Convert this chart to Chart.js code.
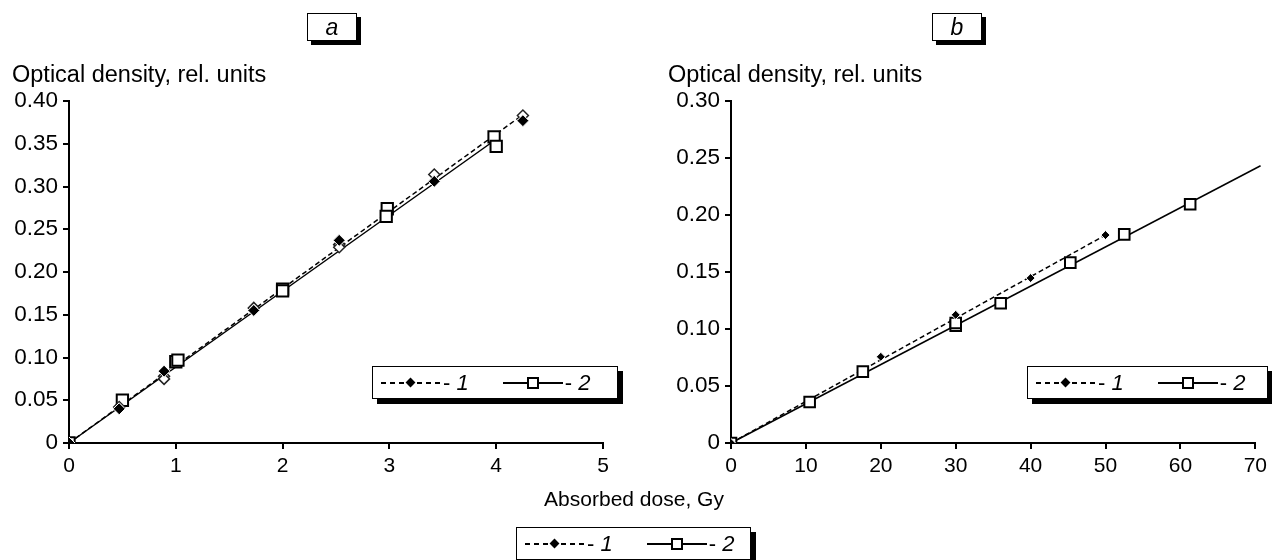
<!DOCTYPE html>
<html>
<head>
<meta charset="utf-8">
<script src="https://cdn.jsdelivr.net/npm/chart.js@4.4.1/dist/chart.umd.min.js"></script>
<style>
body{margin:0;background:#fff;font-family:"Liberation Sans",Arial,sans-serif;color:#000}
#wrap{position:relative;width:1272px;height:560px;overflow:hidden;background:#fff}
canvas{position:absolute;top:0}
.tag{position:absolute;top:13px;width:48px;height:26px;border:1px solid #000;box-shadow:4px 4px 0 #000;background:#fff;text-align:center;font-style:italic;font-size:23px;line-height:26px}
.ytitle{position:absolute;top:61px;font-size:23.5px;line-height:26px;white-space:nowrap}
.xtitle{position:absolute;left:0;width:1268px;top:486px;text-align:center;font-size:21px;line-height:26px}
.legend{position:absolute;height:33px;border:1px solid #000;box-shadow:5px 5px 0 #000;background:#fff;display:flex;align-items:center;font-size:22px;padding-left:8px;box-sizing:border-box}
.sample{position:relative;width:60px;height:12px;display:inline-block}
.sample .ln{position:absolute;left:0;right:0;top:5px;height:2px;background:#000}
.sample .ln.dash{background:repeating-linear-gradient(90deg,#000 0 5px,transparent 5px 9px)}
.sample .dia{position:absolute;left:26px;top:2px;width:7px;height:7px;background:#000;transform:rotate(45deg)}
.sample .sq{position:absolute;left:24px;top:0;width:8px;height:8px;border:2px solid #000;background:#fff}
.lab{margin-left:2px;white-space:pre}
.lab i{font-style:italic}
.gap{width:34px}
</style>
</head>
<body>
<div id="wrap">
  <canvas id="chartA" width="636" height="560" style="left:0"></canvas>
  <canvas id="chartB" width="636" height="560" style="left:636px"></canvas>
  <div class="tag" style="left:307px">a</div>
  <div class="tag" style="left:932px">b</div>
  <div class="ytitle" style="left:12px">Optical density, rel. units</div>
  <div class="ytitle" style="left:668px">Optical density, rel. units</div>
  <div class="xtitle">Absorbed dose, Gy</div>
  <div class="legend" style="left:372px;top:366px;width:246px">
    <span class="sample"><span class="ln dash"></span><span class="dia"></span></span><span class="lab">- <i>1</i></span>
    <span class="gap"></span>
    <span class="sample"><span class="ln"></span><span class="sq"></span></span><span class="lab">- <i>2</i></span>
  </div>
  <div class="legend" style="left:1027px;top:366px;width:241px">
    <span class="sample"><span class="ln dash"></span><span class="dia"></span></span><span class="lab">- <i>1</i></span>
    <span class="gap"></span>
    <span class="sample"><span class="ln"></span><span class="sq"></span></span><span class="lab">- <i>2</i></span>
  </div>
  <div class="legend" style="left:516px;top:527px;width:235px">
    <span class="sample"><span class="ln dash"></span><span class="dia"></span></span><span class="lab">- <i>1</i></span>
    <span class="gap"></span>
    <span class="sample"><span class="ln"></span><span class="sq"></span></span><span class="lab">- <i>2</i></span>
  </div>
</div>
<script>
// panel a: dose in Gy, optical density in rel. units
var doseA1 = [0, 0.47, 0.89, 1.73, 2.53, 3.42, 4.25];
var odA1 = [0, 0.040, 0.084, 0.155, 0.237, 0.306, 0.377];
var doseA1rep = [0.47, 0.89, 0.89, 1.73, 2.53, 2.53, 3.42, 4.25];
var odA1rep = [0.042, 0.078, 0.075, 0.158, 0.232, 0.229, 0.314, 0.383];
var doseA2 = [0, 0.5, 1.0, 1.02, 2.0, 2.0, 2.98, 2.97, 3.98, 4.0];
var odA2 = [0, 0.050, 0.095, 0.097, 0.180, 0.178, 0.274, 0.265, 0.358, 0.347];
var fitDoseA1 = [0, 4.25];
var fitOdA1 = [0, 0.384];
var fitDoseA2 = [0, 3.98];
var fitOdA2 = [0, 0.3535];

// panel b
var doseB1 = [0, 20, 30, 40, 50];
var odB1 = [0, 0.0756, 0.1124, 0.1447, 0.1824];
var doseB2 = [0, 10.5, 17.6, 30, 30, 36, 45.3, 52.5, 61.3];
var odB2 = [0, 0.036, 0.0626, 0.103, 0.1053, 0.1226, 0.1582, 0.183, 0.2094];
var fitDoseB1 = [0, 50];
var fitOdB1 = [0, 0.1824];
var fitDoseB2 = [0, 70.7];
var fitOdB2 = [0, 0.2432];

function pts(xs, ys) {
  var out = [];
  for (var i in xs) out.push({x: xs[i], y: ys[i]});
  return out;
}

function axes(xmax, xstep, ymax, yWidth) {
  var grid = {drawOnChartArea: false, drawTicks: true, tickLength: 6, color: '#000', lineWidth: 2};
  return {
    x: {
      type: 'linear', min: 0, max: xmax,
      ticks: {stepSize: xstep, autoSkip: false, color: '#000', font: {size: 21, family: 'Liberation Sans'}, padding: 5, maxRotation: 0},
      grid: grid,
      border: {color: '#000', width: 2},
      afterFit: function(s) { s.height = 34; }
    },
    y: {
      type: 'linear', min: 0, max: ymax,
      ticks: {
        stepSize: 0.05, autoSkip: false, color: '#000', font: {size: 22.5, family: 'Liberation Sans'}, padding: 5,
        callback: function(v) { return v === 0 ? '0' : v.toFixed(2); }
      },
      grid: grid,
      border: {color: '#000', width: 2},
      afterFit: function(s) { s.width = yWidth; }
    }
  };
}

function makeChart(id, sets, scales, pad) {
  return new Chart(document.getElementById(id), {
    type: 'scatter',
    data: {datasets: sets},
    options: {
      responsive: false,
      animation: false,
      devicePixelRatio: 1,
      layout: {padding: pad},
      plugins: {legend: {display: false}, tooltip: {enabled: false}},
      scales: scales
    }
  });
}

function fitLine(xs, ys, dashed) {
  return {data: pts(xs, ys), showLine: true, pointRadius: 0, borderColor: '#000', borderWidth: 1.5,
          borderDash: dashed ? [5, 3] : [], clip: false, order: 3};
}

makeChart('chartA', [
  {data: pts(doseA1, odA1), pointStyle: 'rectRot', pointRadius: 6, pointBackgroundColor: '#000',
   pointBorderColor: '#fff', pointBorderWidth: 1, order: 0},
  {data: pts(doseA1rep, odA1rep), pointStyle: 'rectRot', pointRadius: 5.5, pointBackgroundColor: '#fff',
   pointBorderColor: '#222', pointBorderWidth: 1.5, order: 1},
  {data: pts(doseA2, odA2), pointStyle: 'rect', pointRadius: 8, pointBackgroundColor: '#fff',
   pointBorderColor: '#000', pointBorderWidth: 2, order: 2},
  fitLine(fitDoseA1, fitOdA1, true),
  fitLine(fitDoseA2, fitOdA2, false)
], axes(5, 1, 0.40, 69), {top: 101, right: 33, bottom: 83, left: 0});

makeChart('chartB', [
  {data: pts(doseB1, odB1), pointStyle: 'rectRot', pointRadius: 4.5, pointBackgroundColor: '#000',
   pointBorderColor: '#fff', pointBorderWidth: 1, order: 0},
  {data: pts(doseB2, odB2), pointStyle: 'rect', pointRadius: 7.5, pointBackgroundColor: '#fff',
   pointBorderColor: '#000', pointBorderWidth: 2, order: 1},
  fitLine(fitDoseB1, fitOdB1, true),
  fitLine(fitDoseB2, fitOdB2, false)
], axes(70, 10, 0.30, 95), {top: 101, right: 15, bottom: 83, left: 0});
</script>
</body>
</html>
